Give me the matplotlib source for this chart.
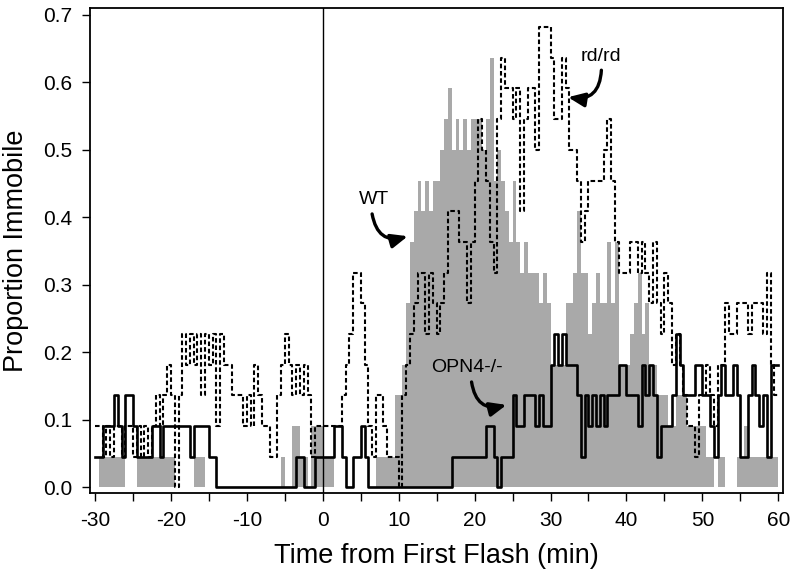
import numpy as np
import matplotlib
matplotlib.use('Agg')
import matplotlib.pyplot as plt
import matplotlib.font_manager as fm

# counts of immobile animals (out of 22) in 0.5 min bins starting at -30 min
n_animals = 22
t_start = -30.0
bin_min = 0.5

wt_counts = [
    0, 1, 1, 1, 1, 1, 1, 1, 0, 0,
    0, 1, 1, 1, 1, 1, 1, 1, 1, 1,
    1, 0, 0, 0, 0, 0, 1, 1, 1, 0,
    0, 0, 0, 0, 0, 0, 0, 0, 0, 0,
    0, 0, 0, 0, 0, 0, 0, 0, 0, 1,
    0, 0, 2, 2, 1, 1, 0, 2, 2, 2,
    1, 1, 1, 0, 0, 0, 0, 0, 0, 0,
    0, 0, 0, 0, 1, 1, 1, 1, 1, 3,
    3, 4, 6, 8, 9, 10, 9, 10, 9, 10,
    10, 11, 12, 13, 11, 12, 11, 12, 11, 12,
    12, 12, 11, 12, 14, 10, 11, 10, 9, 8,
    10, 8, 7, 8, 7, 7, 7, 6, 7, 6,
    4, 4, 4, 4, 6, 6, 7, 9, 7, 7,
    5, 6, 7, 6, 6, 8, 6, 8, 4, 4,
    4, 5, 6, 7, 5, 6, 4, 4, 3, 3,
    3, 2, 2, 3, 3, 3, 2, 2, 2, 2,
    2, 1, 1, 0, 1, 1, 0, 0, 0, 1,
    1, 2, 1, 1, 1, 1, 1, 1, 1, 1,
    1,
]

rd_counts = [
    2, 2, 1, 2, 1, 2, 2, 1, 2, 2,
    1, 2, 1, 2, 1, 2, 3, 2, 3, 4,
    3, 0, 3, 5, 4, 5, 4, 5, 3, 5,
    4, 5, 2, 5, 4, 4, 3, 3, 3, 2,
    3, 2, 4, 3, 2, 2, 1, 1, 3, 4,
    5, 4, 3, 4, 3, 4, 3, 1, 2, 2,
    2, 2, 2, 2, 2, 3, 4, 5, 7, 7,
    6, 4, 2, 1, 3, 3, 2, 1, 1, 1,
    0, 3, 4, 5, 6, 7, 7, 5, 7, 6,
    5, 6, 7, 9, 9, 9, 8, 8, 6, 8,
    10, 12, 11, 10, 8, 7, 12, 14, 13, 13,
    12, 13, 9, 12, 13, 13, 11, 15, 15, 15,
    14, 12, 12, 14, 13, 11, 11, 10, 8, 9,
    10, 10, 10, 10, 11, 12, 10, 8, 7, 7,
    7, 8, 8, 7, 8, 7, 6, 8, 6, 5,
    7, 6, 4, 5, 4, 3, 2, 2, 1, 3,
    3, 4, 3, 2, 4, 4, 6, 5, 5, 6,
    6, 6, 5, 6, 6, 6, 5, 7, 4, 3,
    3,
]

opn4_counts = [
    1, 1, 2, 2, 2, 3, 2, 1, 3, 3,
    2, 1, 1, 1, 1, 2, 2, 1, 2, 2,
    2, 2, 2, 2, 2, 1, 2, 2, 2, 2,
    1, 1, 0, 0, 0, 0, 0, 0, 0, 0,
    0, 0, 0, 0, 0, 0, 0, 0, 0, 0,
    0, 0, 0, 1, 1, 0, 0, 0, 1, 1,
    1, 1, 1, 2, 2, 1, 0, 0, 1, 1,
    2, 1, 0, 0, 0, 0, 0, 0, 0, 0,
    0, 0, 0, 0, 0, 0, 0, 0, 0, 0,
    0, 0, 0, 0, 1, 1, 1, 1, 1, 1,
    1, 1, 1, 2, 2, 1, 0, 1, 1, 1,
    3, 2, 2, 3, 3, 3, 2, 3, 2, 2,
    4, 5, 4, 5, 4, 4, 4, 3, 1, 3,
    2, 3, 2, 3, 2, 3, 3, 3, 4, 4,
    3, 3, 3, 2, 4, 3, 4, 3, 1, 2,
    2, 2, 3, 5, 4, 3, 3, 3, 4, 4,
    3, 3, 2, 1, 3, 4, 3, 3, 4, 3,
    1, 1, 3, 4, 3, 2, 3, 1, 4, 4,
    4,
]

x_ticks = [-30, -20, -10, 0, 10, 20, 30, 40, 50, 60]
y_ticks = [0.0, 0.1, 0.2, 0.3, 0.4, 0.5, 0.6, 0.7]

names = {f.name for f in fm.fontManager.ttflist}
tick_font = 'Liberation Sans Narrow' if 'Liberation Sans Narrow' in names else 'Liberation Sans'
label_font = 'Liberation Sans'

t = t_start + bin_min * np.arange(len(wt_counts))
wt = np.array(wt_counts) / n_animals
rd = np.array(rd_counts) / n_animals
opn4 = np.array(opn4_counts) / n_animals

fig = plt.figure(figsize=(8, 5.8), dpi=100)
ax = fig.add_axes([0.1125, 0.15, 0.979 - 0.1125, 0.986 - 0.15])

ax.fill_between(t, 0, wt, step='post', color='#a9a9a9', lw=0, zorder=1)
ax.axvline(0, color='black', lw=1, zorder=2)
ax.step(t, rd, where='post', color='black', lw=1.5, ls=(0, (2.2, 1.3)), zorder=3)
ax.step(t, opn4, where='post', color='black', lw=1.9, zorder=4)

ax.set_xlim(-30.66, 60.65)
ax.set_ylim(-0.0085, 0.71)

ax.set_xticks(np.arange(-30, 61, 5))
ax.set_xticklabels([str(v) if v in x_ticks else '' for v in range(-30, 61, 5)],
                   family=tick_font, fontsize=15)
ax.set_yticks(y_ticks)
ax.set_yticklabels(['%.1f' % v for v in y_ticks], family=tick_font, fontsize=15)
ax.tick_params(direction='out', length=6, width=1, pad=7, colors='black')

for s in ax.spines.values():
    s.set_linewidth(1.3)

ax.set_xlabel('Time from First Flash (min)', family=label_font, fontsize=19.5, labelpad=9)
ax.set_ylabel('Proportion Immobile', family=label_font, fontsize=19.5, labelpad=10)

arrow = dict(arrowstyle='-|>,head_length=0.9,head_width=0.38', lw=2.4,
             color='black', shrinkA=0, shrinkB=0, mutation_scale=11)
ax.annotate('', xy=(11.2, 0.372), xytext=(6.5, 0.405),
            arrowprops=dict(arrow, connectionstyle='arc3,rad=0.55'))
ax.text(6.8, 0.426, 'WT', ha='center', va='center', family=label_font, fontsize=14)

ax.annotate('', xy=(32.3, 0.578), xytext=(36.7, 0.618),
            arrowprops=dict(arrow, connectionstyle='arc3,rad=-0.55'))
ax.text(36.6, 0.638, 'rd/rd', ha='center', va='center', family=label_font, fontsize=14)

ax.annotate('', xy=(24.2, 0.122), xytext=(19.6, 0.156),
            arrowprops=dict(arrow, connectionstyle='arc3,rad=0.55'))
ax.text(19.05, 0.177, 'OPN4-/-', ha='center', va='center', family=label_font, fontsize=14)

fig.savefig('out.png', dpi=100)
